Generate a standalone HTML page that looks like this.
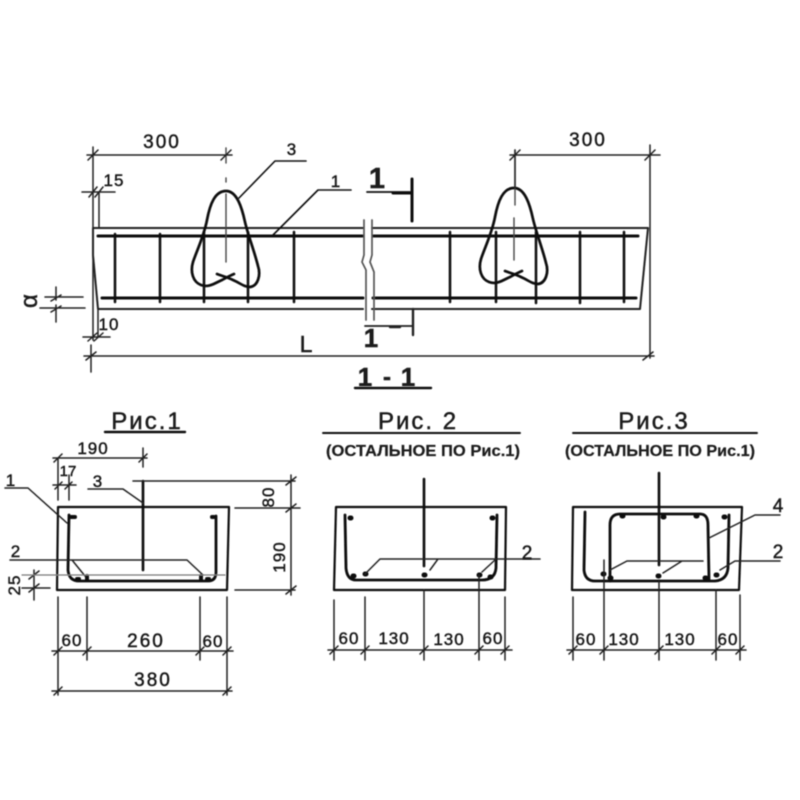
<!DOCTYPE html>
<html><head><meta charset="utf-8"><style>
html,body{margin:0;padding:0;background:#fff;width:800px;height:800px;overflow:hidden}
svg{display:block}
text{font-family:"Liberation Sans",sans-serif;fill:#1a1a1a;stroke:#1a1a1a;stroke-width:.45;text-anchor:middle}
.b{font-size:19px;letter-spacing:2px}
.d{font-size:17px;letter-spacing:1px}
.s{font-size:15px}
.t{font-size:24px;letter-spacing:2px}
.o{font-size:16px;font-weight:bold;stroke-width:.2}
.f path,.f line{fill:none;stroke-linecap:round;stroke-linejoin:round}
</style></head><body>
<svg width="800" height="800" viewBox="0 0 800 800" xmlns="http://www.w3.org/2000/svg">
<defs><filter id="bl" x="-5%" y="-5%" width="110%" height="110%"><feGaussianBlur stdDeviation="0.5"/></filter></defs>
<rect width="800" height="800" fill="#fff"/>
<g class="f" filter="url(#bl)">
<!-- beam outline -->
<path stroke="#222" stroke-width="2" d="M363 228H93V255L98 309H363M372 228H648L640 309H372"/>
<!-- rebar -->
<path stroke="#0a0a0a" stroke-width="3" d="M98 236H363M373 236H638M102 298H363M373 298H636"/>
<path stroke="#0a0a0a" stroke-width="2.5" d="M115 234V302M160 234V302M204 232V302M248 232V302M294 232V302M450 232V302M496 232V302M536 232V303M580 232V303M624 232V302"/>
<!-- loops -->
<path id="lp" stroke="#0a0a0a" stroke-width="2.7" d="M217 274C222 276 227 277 233 280C240 283 244 287 250 287C258 286 261 275 258 266C254 250 248 235 245 222C242 208 237 191 226 191C215 191 210 204 207 220C204 236 197 250 193 262C190 272 193 282 201 285C209 288 215 283 222 280C226 278 229 276 234 274"/>
<use href="#lp" x="288" y="-3"/>
<!-- break lines -->
<path stroke="#555" stroke-width="1.7" d="M364 220V255L362 262L366 270V320M372 220V255L370 262L374 272V320"/>
<!-- center dashes -->
<path stroke="#444" stroke-width="1.4" d="M226 148V163M226 178V182M226 194V262M515 150V205M514 218V260"/>
<!-- dims main -->
<path stroke="#222" stroke-width="1.5" d="M87 155H232M88 160L98 150M221 160L231 150M93 147V340M510 155H660M510 160L520 150M645 160L655 150M515 150V188M650 145V358M82 192H115M89 197L97 187M95 197L103 187M99 192V228M45 297H83M40 308H85M56 287V300M56 305V322M51 301L61 295M51 312L61 306M98 310V337M83 337H110M88 341L97 333M94 341L103 333M84 356H654M86 360L96 352M643 360L653 352M91 345V372"/>
<!-- leaders -->
<path stroke="#111" stroke-width="1.6" d="M239 198L275 161H306M272 236L318 190H351"/>
<!-- section marks -->
<path stroke="#111" stroke-width="1.8" d="M367 192H410"/>
<path stroke="#111" stroke-width="3" d="M412 179V221M393 193H411"/>
<path stroke="#222" stroke-width="1.8" d="M365 326H413"/>
<path stroke="#222" stroke-width="2.4" d="M413 309V335M390 327H400"/>
<path stroke="#111" stroke-width="2.4" d="M355 388H431M105 432H185"/>
<path stroke="#111" stroke-width="1.9" d="M323 433H520M573 433H757"/>

<!-- FIG 1 -->
<path stroke="#111" stroke-width="2.2" d="M58 507H229L227 590H57Z"/>
<path stroke="#0a0a0a" stroke-width="2.8" d="M69 515L68 570Q69 581 79 581H208Q216 581 216 572V516"/>
<path stroke="#0a0a0a" stroke-width="2.6" d="M143 481V570"/>
<path stroke="#0a0a0a" stroke-width="4" d="M71 517H75M212 517H214M77 579H79M87 576V580M201 576V580M207 579H209"/>
<path stroke="#222" stroke-width="1.5" d="M53 458H147M54 462L62 454M139 462L147 454M143 448V467M58 458V500M69 475V500M53 485H76M55 489L62 482M65 489L72 482M5 488H28L67 523M88 489H123L143 503M133 481H295M291 475V595M286 485L296 477M286 512L296 504M286 594L296 586M235 508H300M235 590H295M10 560H187L203 575M72 560L85 576M22 588H50M34 570V600M29 579L39 571M29 592L39 584M58 597V695M87 597V660M200 597V660M227 597V695M52 651H233M54 655L62 647M83 655L91 647M196 655L204 647M223 655L231 647M52 691H232M54 695L62 687M223 695L231 687"/>
<path stroke="#777" stroke-width="1.2" d="M22 575H225"/>

<!-- FIG 2 -->
<path stroke="#111" stroke-width="2.2" d="M336 507H506L505 590H334Z"/>
<path stroke="#0a0a0a" stroke-width="2.8" d="M345 515L346 568Q347 580 356 580H482Q495 580 496 568L497 515"/>
<path stroke="#0a0a0a" stroke-width="2.6" d="M424 479V566"/>
<path stroke="#0a0a0a" stroke-width="5" d="M350 518H351M492 518H493M353 576H354M365 574H366M424 575H425M479 575H480M490 577H491"/>
<path stroke="#222" stroke-width="1.5" d="M365 574L380 559H540M430 570L438 559M482 572L495 560M334 600V660M365 597V660M424 590V660M479 575V660M505 597V660M328 650H512M330 654L338 646M361 654L369 646M420 654L428 646M475 654L483 646M501 654L509 646"/>

<!-- FIG 3 -->
<path stroke="#111" stroke-width="2.2" d="M573 507H742L739 590H572Z"/>
<path stroke="#0a0a0a" stroke-width="2.8" d="M585 512L584 570Q585 581 595 581H715Q727 580 728 568L729 515"/>
<path stroke="#0a0a0a" stroke-width="2.8" d="M610 581V525Q610 514 620 514H700Q708 514 708 525L709 580"/>
<path stroke="#0a0a0a" stroke-width="2.6" d="M659 473V565"/>
<path stroke="#0a0a0a" stroke-width="5" d="M603 574H604M610 578H611M622 516H623M663 517H664M696 516H697M658 576H659M705 578H706M716 575H717M724 517H725"/>
<path stroke="#222" stroke-width="1.5" d="M709 538L755 515H780M610 570L627 561H703M663 573L682 561M720 570L735 561H780M573 597V660M604 560V660M659 580V660M716 590V660M740 595V660M567 650H746M569 654L577 646M600 654L608 646M655 654L663 646M712 654L720 646M736 654L744 646"/>
</g>
<g filter="url(#bl)">
<text class="b" x="162" y="148">300</text>
<text class="b" x="588" y="146">300</text>
<text class="d" x="292" y="155">3</text>
<text class="d" x="336" y="187">1</text>
<text class="d" x="114" y="186">15</text>
<text class="d" x="109" y="330">10</text>
<text font-size="23" x="306" y="352">L</text>
<text font-size="29" font-weight="bold" x="377" y="188">1</text>
<text font-size="26" font-weight="bold" x="371" y="347">1</text>
<text font-size="26" font-weight="bold" x="365" y="386">1</text>
<text font-size="24" font-weight="bold" x="387" y="385">-</text>
<text font-size="26" font-weight="bold" x="408" y="386">1</text>
<text font-size="24" transform="translate(37 301) rotate(-90)">α</text>
<text class="t" x="147" y="429">Рис.1</text>
<text class="t" x="418" y="429">Рис. 2</text>
<text class="t" x="654" y="429">Рис.3</text>
<text class="o" x="423" y="456" textLength="194" lengthAdjust="spacingAndGlyphs">(ОСТАЛЬНОЕ ПО Рис.1)</text>
<text class="o" x="660" y="456" textLength="190" lengthAdjust="spacingAndGlyphs">(ОСТАЛЬНОЕ ПО Рис.1)</text>
<text class="d" x="93" y="454">190</text>
<text class="s" x="68" y="476">17</text>
<text class="d" x="11" y="486">1</text>
<text class="d" x="98" y="487">3</text>
<text class="d" x="16" y="557">2</text>
<text class="d" transform="translate(274 497) rotate(-90)">80</text>
<text class="d" transform="translate(285 557) rotate(-90)">190</text>
<text class="d" transform="translate(20 585) rotate(-90)">25</text>
<text class="d" x="72" y="646">60</text>
<text class="b" x="146" y="647">260</text>
<text class="d" x="213" y="647">60</text>
<text class="b" x="153" y="686">380</text>
<text class="d" x="349" y="644">60</text>
<text class="d" x="394" y="644">130</text>
<text class="d" x="449" y="645">130</text>
<text class="d" x="493" y="644">60</text>
<text class="b" x="528" y="559">2</text>
<text class="d" x="586" y="645">60</text>
<text class="d" x="624" y="645">130</text>
<text class="d" x="680" y="645">130</text>
<text class="d" x="728" y="645">60</text>
<text class="b" x="779" y="512">4</text>
<text class="b" x="779" y="558">2</text>
</g>
</svg>
</body></html>
